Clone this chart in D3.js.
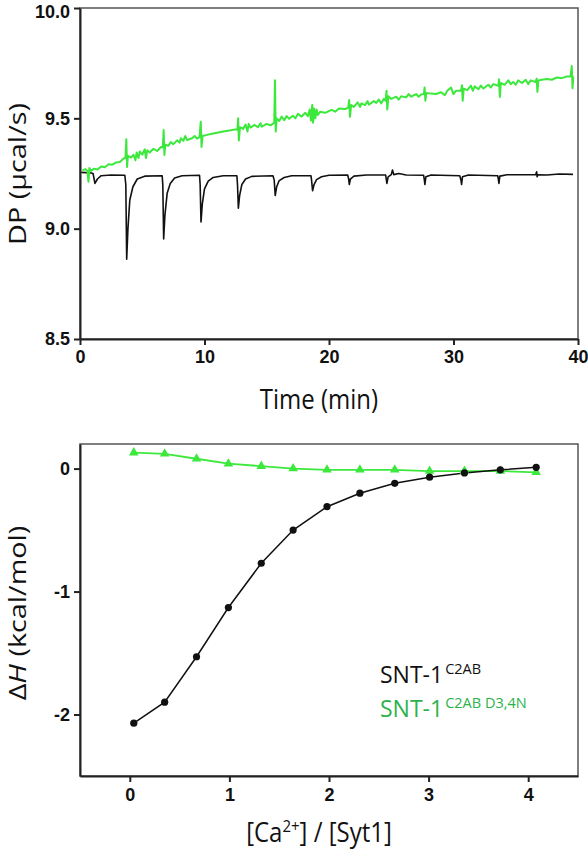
<!DOCTYPE html>
<html><head><meta charset="utf-8">
<script src="https://cdn.jsdelivr.net/npm/d3@7"></script>
<style>
html,body{margin:0;padding:0;background:#fff;}
svg{display:block;}
.tick text{font-family:"Liberation Sans",Arial,sans-serif;font-weight:bold;font-size:18px;fill:#111;}
.title{font-family:"Open Sans",sans-serif;font-size:24px;fill:#111;}
</style></head>
<body>
<svg id="c" width="588" height="853"></svg>
<script>
// ---------- Top panel: raw ITC thermograms ----------
const topXTicks = [0, 10, 20, 30, 40];
const topYTicks = [8.5, 9.0, 9.5, 10.0];
// SNT-1 C2AB (black) trace: [time (min), DP (µcal/s)]
const traceWT = [
 [0.1,9.255],[0.9,9.252],[1.05,9.25],[1.2,9.205],[1.4,9.225],[1.7,9.24],[2.5,9.243],[3.6,9.242],
 [3.68,9.20],[3.75,8.862],[3.85,9.00],[4.0,9.13],[4.25,9.19],[4.6,9.225],[5.2,9.238],[6.6,9.24],
 [6.65,9.20],[6.72,8.953],[6.82,9.06],[7.0,9.16],[7.25,9.205],[7.6,9.23],[8.2,9.24],[9.6,9.242],
 [9.65,9.2],[9.72,9.03],[9.82,9.11],[10.0,9.18],[10.3,9.215],[10.7,9.232],[11.5,9.24],[12.6,9.24],
 [12.65,9.2],[12.72,9.093],[12.82,9.15],[13.0,9.2],[13.3,9.225],[13.8,9.237],[15.5,9.24],
 [15.6,9.22],[15.68,9.15],[15.8,9.19],[16.0,9.218],[16.4,9.232],[17.0,9.24],[18.55,9.24],
 [18.6,9.22],[18.68,9.172],[18.8,9.2],[19.0,9.222],[19.4,9.235],[20.0,9.242],[21.5,9.243],
 [21.58,9.225],[21.63,9.20],[21.72,9.225],[22.0,9.238],[23.0,9.243],[24.55,9.243],
 [24.6,9.225],[24.65,9.205],[24.75,9.235],[25.0,9.245],[25.1,9.266],[25.2,9.245],[25.6,9.25],[26.2,9.243],[27.6,9.242],
 [27.65,9.225],[27.7,9.20],[27.78,9.235],[28.2,9.243],[30.5,9.24],
 [30.6,9.22],[30.65,9.20],[30.72,9.235],[31.2,9.243],[33.55,9.24],
 [33.6,9.225],[33.65,9.205],[33.72,9.238],[34.3,9.244],[36.6,9.244],
 [36.68,9.258],[36.72,9.235],[36.78,9.244],[37.5,9.243],[38.5,9.248],[39.6,9.246]
];
// SNT-1 C2AB D3,4N (green) trace
const traceMut = [
 [0.2,9.265],[0.45,9.27],[0.6,9.26],[0.68,9.213],[0.75,9.275],[0.9,9.262],[1.1,9.272],[1.4,9.268],[1.7,9.282],[2.0,9.278],[2.3,9.292],[2.6,9.29],[2.9,9.30],[3.2,9.302],[3.5,9.318],[3.65,9.32],
 [3.72,9.405],[3.78,9.28],[3.85,9.33],[4.1,9.322],[4.3,9.335],[4.45,9.31],[4.55,9.345],[4.7,9.32],[4.8,9.35],[5.0,9.335],[5.2,9.36],[5.3,9.32],[5.4,9.355],[5.6,9.345],[5.9,9.362],[6.2,9.352],[6.5,9.37],[6.65,9.368],
 [6.72,9.447],[6.78,9.334],[6.85,9.38],[7.1,9.376],[7.3,9.392],[7.5,9.383],[7.8,9.40],[8.0,9.39],[8.1,9.41],[8.3,9.398],[8.45,9.42],[8.6,9.402],[9.0,9.41],[9.2,9.42],[9.4,9.408],[9.6,9.415],
 [9.7,9.485],[9.76,9.37],[9.85,9.42],[10.2,9.425],[10.6,9.43],[11.0,9.435],[11.5,9.44],[12.0,9.445],[12.5,9.45],[12.65,9.448],
 [12.7,9.50],[12.76,9.40],[12.85,9.46],[13.1,9.452],[13.3,9.472],[13.45,9.44],[13.55,9.475],[13.7,9.458],[14.0,9.47],[14.3,9.46],[14.5,9.478],[14.6,9.462],[15.0,9.475],[15.3,9.468],[15.6,9.48],
 [15.66,9.673],[15.72,9.44],[15.8,9.50],[16.0,9.488],[16.2,9.508],[16.4,9.492],[16.6,9.51],[16.8,9.498],[17.1,9.512],[17.3,9.50],[17.5,9.52],[17.8,9.508],[18.1,9.525],[18.3,9.51],[18.45,9.54],[18.55,9.49],[18.65,9.56],[18.72,9.48],[18.8,9.545],[18.9,9.50],[19.0,9.54],[19.1,9.515],[19.3,9.53],[19.7,9.525],[20.2,9.538],[20.5,9.53],[20.8,9.545],[21.3,9.542],[21.55,9.55],
 [21.62,9.583],[21.68,9.507],[21.78,9.56],[22.0,9.552],[22.3,9.572],[22.5,9.552],[22.6,9.568],[22.9,9.56],[23.1,9.578],[23.2,9.562],[23.6,9.578],[23.8,9.57],[24.0,9.585],[24.2,9.568],[24.4,9.588],[24.55,9.58],
 [24.62,9.625],[24.68,9.54],[24.78,9.60],[25.0,9.588],[25.4,9.598],[25.6,9.585],[25.8,9.60],[26.2,9.595],[26.4,9.61],[26.6,9.598],[27.0,9.61],[27.2,9.598],[27.4,9.608],[27.62,9.61],
 [27.68,9.64],[27.74,9.58],[27.82,9.615],[28.2,9.612],[28.6,9.61],[29.0,9.618],[29.3,9.605],[29.5,9.625],[29.8,9.64],[30.0,9.61],[30.2,9.625],[30.6,9.625],
 [30.68,9.65],[30.74,9.58],[30.82,9.635],[31.1,9.628],[31.4,9.648],[31.55,9.625],[31.7,9.645],[32.0,9.632],[32.2,9.648],[32.4,9.635],[32.8,9.652],[33.0,9.64],[33.2,9.655],[33.6,9.648],
 [33.66,9.677],[33.72,9.597],[33.8,9.66],[34.1,9.652],[34.4,9.672],[34.6,9.655],[34.8,9.665],[35.0,9.652],[35.2,9.672],[35.5,9.66],[35.8,9.675],[36.0,9.655],[36.2,9.672],[36.6,9.665],
 [36.68,9.68],[36.74,9.62],[36.82,9.672],[37.1,9.675],[37.5,9.678],[37.9,9.675],[38.3,9.685],[38.7,9.682],[39.1,9.69],[39.4,9.69],
 [39.5,9.737],[39.56,9.636],[39.62,9.69]
];

// ---------- Bottom panel: integrated heats ----------
const botXTicks = [0, 1, 2, 3, 4];
const botYTicks = [-2, -1, 0];
const molarRatio = [0.04,0.35,0.67,0.99,1.32,1.64,1.98,2.31,2.66,3.01,3.36,3.72,4.08];
const dHWT  = [-2.07,-1.90,-1.53,-1.13,-0.77,-0.50,-0.31,-0.20,-0.12,-0.07,-0.035,-0.01,0.01];
const dHMut = [0.13,0.12,0.08,0.04,0.02,0.00,-0.01,-0.01,-0.01,-0.02,-0.02,-0.02,-0.03];
const legendNames = ["SNT-1", "SNT-1"];
const legendSups = ["C2AB", "C2AB D3,4N"];

const BLACK = "#111", GREEN_LINE = "#3de83d", GREEN_TXT = "#2db24c";
const svg = d3.select("#c");
const hyphen = f => d => f(d).replace("\u2212", "-");

function frame(g, x, y) {
  const [x0, x1] = x.range(), [y0, y1] = y.range();
  g.append("rect").attr("x", x0).attr("y", y1).attr("width", x1 - x0).attr("height", y0 - y1)
    .attr("fill", "none").attr("stroke", "#555").attr("stroke-width", 1.5);
}
function styleAxis(sel) {
  sel.select(".domain").attr("stroke", "#222").attr("stroke-width", 2);
  sel.selectAll(".tick line").attr("stroke", "#222").attr("stroke-width", 2);
}

// top
const xT = d3.scaleLinear().domain([0, 40]).range([80, 578]);
const yT = d3.scaleLinear().domain([8.5, 10]).range([339, 8]);
const gT = svg.append("g");
frame(gT, xT, yT);
const lineT = d3.line().x(d => xT(d[0])).y(d => yT(d[1]));
gT.append("path").datum(traceWT).attr("d", lineT).attr("fill", "none").attr("stroke", BLACK).attr("stroke-width", 1.6).attr("stroke-linejoin", "round");
gT.append("path").datum(traceMut).attr("d", lineT).attr("fill", "none").attr("stroke", GREEN_LINE).attr("stroke-width", 2).attr("stroke-linejoin", "round");
gT.append("g").attr("transform", "translate(0,339)")
  .call(d3.axisBottom(xT).tickValues(topXTicks).tickSize(6).tickPadding(5).tickSizeOuter(0).tickFormat(d3.format("d")))
  .call(styleAxis);
gT.append("g").attr("transform", "translate(80,0)")
  .call(d3.axisLeft(yT).tickValues(topYTicks).tickSize(6).tickPadding(4).tickSizeOuter(0).tickFormat(d3.format(".1f")))
  .call(styleAxis)
  .call(g => g.selectAll(".tick text").filter(d => d === 10).attr("dy", "0.52em"));
svg.append("text").attr("class", "title").attr("text-anchor", "middle")
  .attr("transform", "translate(319,409) scale(1,1.12)").text("Time (min)");
svg.append("text").attr("class", "title").attr("text-anchor", "middle")
  .attr("transform", "translate(26,174) rotate(-90) scale(1.2,1)").text("DP (µcal/s)");

// bottom
const xB = d3.scaleLinear().domain([-0.5, 4.5]).range([80, 578]);
const yB = d3.scaleLinear().domain([-2.5, 0.2]).range([776, 444]);
const gB = svg.append("g");
frame(gB, xB, yB);
const lineB = d3.line().x(d => xB(d[0])).y(d => yB(d[1]));
const wt = molarRatio.map((m, i) => [m, dHWT[i]]);
const mu = molarRatio.map((m, i) => [m, dHMut[i]]);
gB.append("path").datum(mu).attr("d", lineB).attr("fill", "none").attr("stroke", GREEN_LINE).attr("stroke-width", 1.8);
gB.append("path").datum(wt).attr("d", lineB).attr("fill", "none").attr("stroke", BLACK).attr("stroke-width", 1.5);
const tri = d3.symbol().type(d3.symbolTriangle).size(40);
gB.selectAll(".tri").data(mu).join("path").attr("class", "tri")
  .attr("transform", d => `translate(${xB(d[0])},${yB(d[1])})`).attr("d", tri).attr("fill", GREEN_LINE);
gB.selectAll(".dot").data(wt).join("circle").attr("class", "dot")
  .attr("cx", d => xB(d[0])).attr("cy", d => yB(d[1])).attr("r", 3.6).attr("fill", BLACK);
gB.append("g").attr("transform", "translate(0,776)")
  .call(d3.axisBottom(xB).tickValues(botXTicks).tickSize(6).tickPadding(6).tickSizeOuter(0).tickFormat(d3.format("d")))
  .call(styleAxis);
gB.append("g").attr("transform", "translate(80,0)")
  .call(d3.axisLeft(yB).tickValues(botYTicks).tickSize(6).tickPadding(4).tickSizeOuter(0).tickFormat(hyphen(d3.format("d"))))
  .call(styleAxis);

const xl = svg.append("text").attr("class", "title").attr("text-anchor", "middle")
  .attr("transform", "translate(319,842) scale(1,1.12)");
xl.append("tspan").text("[Ca");
xl.append("tspan").attr("dy", -9).attr("font-size", 15).text("2+");
xl.append("tspan").attr("dy", 9).text("] / [Syt1]");

const yl = svg.append("text").attr("class", "title").attr("text-anchor", "middle")
  .attr("transform", "translate(26,613) rotate(-90) scale(1.2,1)");
yl.append("tspan").text("Δ");
yl.append("tspan").attr("font-style", "italic").text("H");
yl.append("tspan").text(" (kcal/mol)");

// legend
const legColors = [BLACK, GREEN_TXT];
const legY = [683, 717];
legendNames.forEach((n, i) => {
  const t = svg.append("text").attr("x", 380).attr("y", legY[i])
    .attr("font-family", "Open Sans, sans-serif").attr("font-size", 23).attr("fill", legColors[i]);
  t.append("tspan").text(n);
  t.append("tspan").attr("dy", -9).attr("font-size", 14.5).attr("dx", 2).text(legendSups[i]);
});
</script>
</body></html>
